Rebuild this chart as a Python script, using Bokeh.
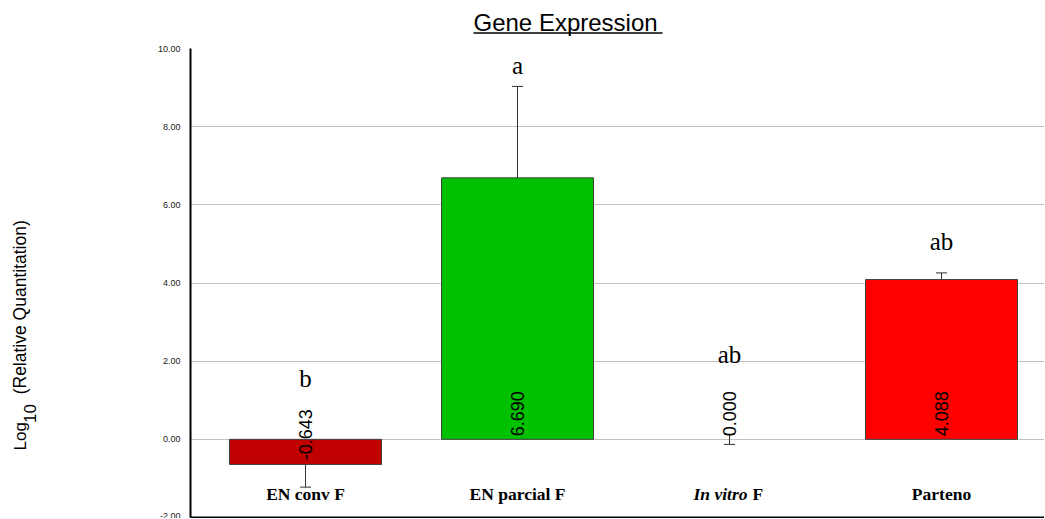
import math
from bokeh.plotting import figure
from bokeh.layouts import column, row
from bokeh.models import (ColumnDataSource, Whisker, TeeHead, FixedTicker,
                          Range1d, PrintfTickFormatter)
from bokeh.core.properties import value
from bokeh.embed import file_html
from bokeh.resources import INLINE

# ---- data ----
categories = ["EN conv F", "EN parcial F", "In vitro F", "Parteno"]
values = [-0.643, 6.690, 0.000, 4.088]
errors = [0.58, 2.34, 0.13, 0.17]
letters = ["b", "a", "ab", "ab"]
letter_heights = [1.35, 9.36, 1.96, 4.86]
colors = ["#C00000", "#00C000", "#FFFFFF", "#FF0000"]
y_ticks = [-2, 0, 2, 4, 6, 8, 10]
title_text = "Gene Expression"
ylabel_parts = ["Log", "10", "(Relative Quantitation)"]

TOTAL_W, TOTAL_H = 1044, 518
TITLE_H = 42
YLAB_W = 40
MAIN_W = TOTAL_W - YLAB_W
MAIN_H = TOTAL_H - TITLE_H


def blank_fig(w, h):
    f = figure(width=w, height=h, x_range=Range1d(0, w), y_range=Range1d(0, h),
               x_axis_type=None, y_axis_type=None, output_backend="svg",
               toolbar_location=None, min_border=0)
    f.outline_line_color = None
    f.xgrid.grid_line_color = None
    f.ygrid.grid_line_color = None
    return f


# ---- title strip ----
tf = blank_fig(TOTAL_W, TITLE_H)
tf.text(x=[473], y=[20.5], text=[title_text], text_align="left",
        text_baseline="alphabetic", text_font=value("Liberation Sans"),
        text_font_size="24px", text_color="black")
tf.segment(x0=[473], y0=[9.5], x1=[662], y1=[9.5], line_color="black",
           line_width=1.5)

# ---- y label strip ----
lf = blank_fig(YLAB_W, MAIN_H)
lf.text(x=[19.5, 29.5, 19.5], y=[68, 96, 125], text=ylabel_parts,
        angle=math.pi / 2, text_align="left", text_baseline="alphabetic",
        text_font=value("Liberation Sans"),
        text_font_size=["17px", "17px", "17.5px"], text_color="black")

# ---- main chart ----
xs = list(range(len(categories)))
src = ColumnDataSource(dict(
    x=xs,
    v=values,
    color=colors,
    line_color=["#404040" if v != 0 else None for v in values],
    upper=[v + e for v, e in zip(values, errors)],
    lower=[v - e for v, e in zip(values, errors)],
    vlabel=["%.3f" % v for v in values],
    voff=[21 if v < 0 else -3 for v in values],
))

p = figure(width=MAIN_W, height=MAIN_H,
           x_range=Range1d(-0.5425, 3.4858), y_range=Range1d(-2, 10),
           output_backend="svg", toolbar_location=None,
           min_border_left=150, min_border_right=0,
           min_border_top=6, min_border_bottom=1)
p.outline_line_color = None

p.xaxis.ticker = FixedTicker(ticks=[])
p.xaxis.axis_line_color = "black"
p.xaxis.axis_line_width = 2
p.xaxis.major_tick_out = 0
p.xaxis.major_tick_in = 0
p.xaxis.minor_tick_out = 0
p.xaxis.minor_tick_in = 0
p.xgrid.grid_line_color = None

p.yaxis.ticker = FixedTicker(ticks=y_ticks)
p.yaxis.formatter = PrintfTickFormatter(format="%.2f")
p.yaxis.major_label_text_font = "Liberation Sans"
p.yaxis.major_label_text_font_size = "9px"
p.yaxis.major_label_text_color = "#222222"
p.yaxis.major_tick_out = 0
p.yaxis.major_tick_in = 0
p.yaxis.minor_tick_out = 0
p.yaxis.minor_tick_in = 0
p.yaxis.major_label_standoff = 10
p.yaxis.axis_line_color = "black"
p.yaxis.axis_line_width = 2
p.ygrid.grid_line_color = "#C0C0C0"
p.ygrid.grid_line_width = 1

p.vbar(x="x", top="v", bottom=0, width=0.717, fill_color="color",
       line_color="line_color", line_width=1, source=src)

p.text(x="x", y=0, text="vlabel", angle=math.pi / 2, y_offset="voff",
       text_align="left", text_baseline="middle",
       text_font=value("Liberation Sans"), text_font_size="18px",
       text_color="black", source=src)

p.add_layout(Whisker(base="x", upper="upper", lower="lower", source=src,
                     line_color="#333333", line_width=1,
                     upper_head=TeeHead(size=11, line_color="#333333", line_width=1),
                     lower_head=TeeHead(size=11, line_color="#333333", line_width=1)))

p.text(x=xs, y=letter_heights, text=letters, y_offset=-8, text_align="center",
       text_baseline="alphabetic", text_font=value("Liberation Serif"),
       text_font_size="25px", text_color="black")

lab_y = -1.52
lab_off = -5
plain_idx = [i for i, c in enumerate(categories) if not c.startswith("In vitro")]
p.text(x=[xs[i] for i in plain_idx], y=[lab_y] * len(plain_idx),
       text=[categories[i] for i in plain_idx], y_offset=lab_off,
       text_align="center", text_baseline="alphabetic",
       text_font=value("Liberation Serif"),
       text_font_style="bold", text_font_size="17.5px", text_color="black")
iv = categories.index("In vitro F")
p.text(x=[xs[iv]], y=[lab_y], text=["In vitro"], x_offset=18, y_offset=lab_off,
       text_align="right", text_baseline="alphabetic",
       text_font=value("Liberation Serif"), text_font_style="bold italic",
       text_font_size="17.5px", text_color="black")
p.text(x=[xs[iv]], y=[lab_y], text=["F"], x_offset=23, y_offset=lab_off,
       text_align="left", text_baseline="alphabetic",
       text_font=value("Liberation Serif"), text_font_style="bold",
       text_font_size="17.5px", text_color="black")

layout = column(tf, row(lf, p, spacing=0), spacing=0)

open("out.html", "w").write(file_html(layout, INLINE))
